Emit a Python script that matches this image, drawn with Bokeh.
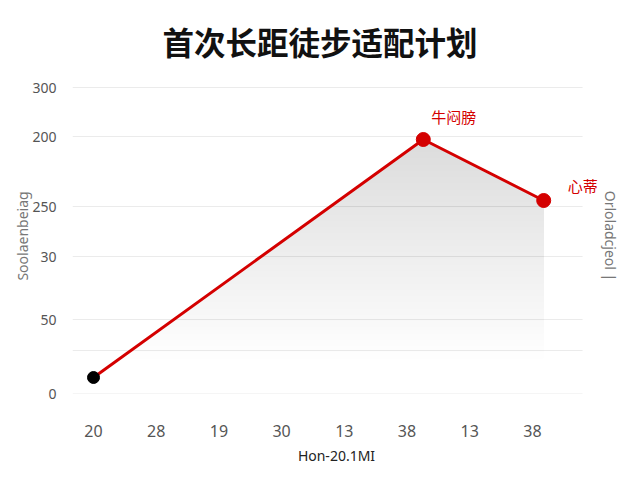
import numpy as np
from bokeh.plotting import figure
from bokeh.models import Range1d, FixedTicker, Label, Title, LinearAxis
from bokeh.embed import file_html
from bokeh.resources import INLINE

# data (x in category slots, y in axis units)
title_text = "首次长距徒步适配计划"
x_tick_labels = ["20", "28", "19", "30", "13", "38", "13", "38"]
y_tick_pos = [0, 43, 74, 137, 187, 257, 306]
y_tick_labels = ["0", "", "50", "30", "250", "200", "300"]
pt_x = [0, 5.26, 7.18]
pt_y = [16, 254, 193]
pt_colors = ["#000000", "#d40000", "#d40000"]
note_peak = "牛闷膀"
note_last = "心蒂"
x_label = "Hon-20.1MI"
y_label = "Soolaenbeiag"
right_label = "Orloladcjeol |"

CJK = "Noto Sans CJK SC"
SANS = "Noto Sans"
X_MIN, X_GRID_END, X_MAX = -0.335, 7.8, 8.086

p = figure(width=624, height=467, output_backend="svg", toolbar_location=None,
           x_range=Range1d(X_MIN, X_MAX), y_range=Range1d(0, 315),
           min_border_left=72, min_border_right=24, min_border_bottom=60,
           min_border_top=40)
p.outline_line_color = None
p.background_fill_color = "white"
p.border_fill_color = "white"

t = Title(text=title_text, align="left", text_font=CJK, text_font_size="31.5px",
          text_font_style="bold", text_color="#111111", offset=90, standoff=30)
p.add_layout(t, "above")

# grid lines stop short of the right edge, so draw them as segments
p.xgrid.grid_line_color = None
p.ygrid.grid_line_color = None
p.segment(x0=[X_MIN] * len(y_tick_pos), x1=[X_GRID_END] * len(y_tick_pos),
          y0=y_tick_pos, y1=y_tick_pos, line_color="#ebebeb", line_width=1)

# axes
p.xaxis.ticker = FixedTicker(ticks=list(range(len(x_tick_labels))))
p.xaxis.major_label_overrides = {i: s for i, s in enumerate(x_tick_labels)}
p.yaxis.ticker = FixedTicker(ticks=y_tick_pos)
p.yaxis.major_label_overrides = {v: s for v, s in zip(y_tick_pos, y_tick_labels)}

right_ax = LinearAxis(ticker=FixedTicker(ticks=[]), axis_label=right_label)
p.add_layout(right_ax, "right")

for ax in (p.xaxis[0], p.yaxis[0], right_ax):
    ax.axis_line_color = None
    ax.major_tick_line_color = None
    ax.minor_tick_line_color = None
    ax.major_label_text_font = SANS
    ax.major_label_text_color = "#555555"
    ax.axis_label_text_font = SANS
    ax.axis_label_text_font_size = "14px"
    ax.axis_label_text_font_style = "normal"
    ax.axis_label_text_color = "#777777"
right_ax.major_tick_out = 0
right_ax.major_label_standoff = 0
right_ax.axis_label_standoff = 0
p.xaxis.major_label_text_font_size = "16px"
p.xaxis.major_label_standoff = 25
p.yaxis[0].major_label_text_font_size = "14px"
p.yaxis[0].major_label_standoff = 10
p.xaxis.axis_label = x_label
p.xaxis.axis_label_text_color = "#222222"
p.xaxis.axis_label_standoff = 6
p.yaxis[0].axis_label = y_label
p.yaxis[0].axis_label_standoff = -3

# soft grey fade under the line, built as stacked translucent bands
xs = np.linspace(pt_x[0], pt_x[-1], 400)
fx = np.interp(xs, pt_x, pt_y)
for lev in np.linspace(35, max(pt_y), 36):
    p.varea(x=xs, y1=np.full_like(xs, lev), y2=np.maximum(fx, lev),
            fill_color="#8f96a0", fill_alpha=0.009)

p.line(pt_x, pt_y, line_color="#d40000", line_width=3)
p.scatter(pt_x, pt_y, size=[12, 14, 14], fill_color=pt_colors, line_color=pt_colors)

p.add_layout(Label(x=pt_x[1], y=pt_y[1], x_offset=8, y_offset=23, text=note_peak,
                   text_font=CJK, text_font_size="15px", text_color="#d40000",
                   text_baseline="middle"))
p.add_layout(Label(x=pt_x[2], y=pt_y[2], x_offset=24, y_offset=15, text=note_last,
                   text_font=CJK, text_font_size="15px", text_color="#d40000",
                   text_baseline="middle"))

open("out.html", "w").write(file_html(p, INLINE))
